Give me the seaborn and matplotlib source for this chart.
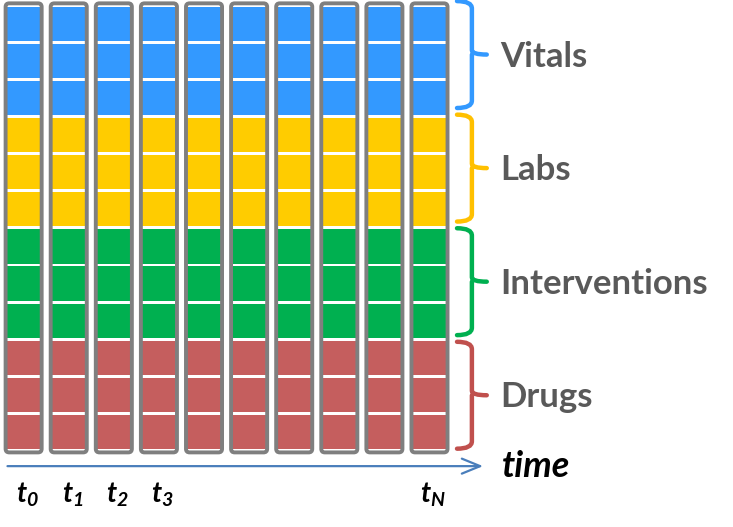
import seaborn as sns
import matplotlib.pyplot as plt
import numpy as np
import pandas as pd
from matplotlib.patches import FancyBboxPatch, PathPatch
from matplotlib.path import Path

# Data
n_steps = 10
groups = ['Drugs', 'Interventions', 'Labs', 'Vitals']      # bottom to top
cells_per_group = 3
cell_colors = ['#C55E5E', '#00B050', '#FFCC00', '#3399FF']
bracket_colors = ['#C0504D', '#00B050', '#FFC000', '#3399FF']
tick_steps = [0, 1, 2, 3, 9]
tick_labels = [r'$t_0$', r'$t_1$', r'$t_2$', r'$t_3$', r'$t_N$']

# one row per cell
rows = []
for step in range(n_steps):
    for g, name in enumerate(groups):
        for k in range(cells_per_group):
            rows.append({'step': step, 'row': g * cells_per_group + k,
                         'group': name, 'color': cell_colors[g]})
cells = pd.DataFrame(rows)

sns.set_theme(style='white')
plt.rcParams['font.family'] = ['Lato', 'DejaVu Sans']
plt.rcParams['mathtext.fontset'] = 'custom'
plt.rcParams['mathtext.it'] = 'Lato:italic:bold'
plt.rcParams['mathtext.rm'] = 'Lato:italic:bold'

fig = plt.figure(figsize=(7.33, 5.27), dpi=100)
ax = fig.add_axes([0, 0, 1, 1])
ax.set_xlim(-0.524, 15.73)
ax.set_ylim(-2.06, 12.14)
ax.axis('off')

# cells (small gap between them shows as a white line)
gap = 0.08
ax.bar(cells['step'], 1 - gap, bottom=cells['row'] + gap / 2, width=0.74,
       align='center', color=cells['color'], linewidth=0, zorder=2)

# column outlines
n_rows = len(groups) * cells_per_group
for step in range(n_steps):
    box = FancyBboxPatch((step - 0.4, -0.05), 0.8, n_rows + 0.1,
                         boxstyle='round,pad=0,rounding_size=0.08',
                         mutation_aspect=1.2, fc='none', ec='#7F7F7F',
                         lw=2.8, zorder=3)
    ax.add_patch(box)

# brackets + labels
xl, xm, xt = 9.61, 9.94, 10.27
for g, name in enumerate(groups):
    bot = g * cells_per_group + 0.05 + 0.06 * g
    top = bot + 2.88
    mid = (bot + top) / 2
    verts = [(xl, top), (xm, top), (xm, top - 0.2),
             (xm, mid + 0.12), (xm, mid), (xt, mid),
             (xm, mid), (xm, mid - 0.12),
             (xm, bot + 0.2), (xm, bot), (xl, bot)]
    codes = [Path.MOVETO, Path.CURVE3, Path.CURVE3,
             Path.LINETO, Path.CURVE3, Path.CURVE3,
             Path.MOVETO, Path.CURVE3,
             Path.LINETO, Path.CURVE3, Path.CURVE3]
    ax.add_patch(PathPatch(Path(verts, codes), fc='none',
                           ec=bracket_colors[g], lw=3.2, capstyle='round'))
    ax.text(10.56, mid - 0.33, name, fontsize=25, fontweight='bold',
            color='#595959', ha='left', va='baseline')

# time arrow
ax.annotate('', xy=(10.25, -0.42), xytext=(-0.42, -0.42),
            arrowprops=dict(arrowstyle='->,head_length=1.1,head_width=0.45',
                            color='#4A7EBB', lw=1.6))
ax.text(10.6, -0.44, 'time', fontsize=26, fontweight='bold',
        style='italic', color='black', ha='left', va='center')

# time step labels
for step, lab in zip(tick_steps, tick_labels):
    ax.text(step + 0.08, -1.2, lab, fontsize=20, color='black',
            ha='center', va='center')

fig.savefig('out.png', dpi=100)
